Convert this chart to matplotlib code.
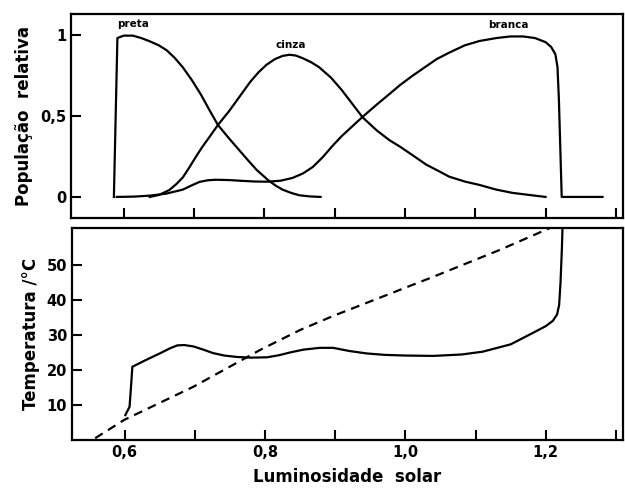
import matplotlib
matplotlib.use("Agg")
import matplotlib.pyplot as plt
from matplotlib.ticker import FixedLocator, MultipleLocator

plt.rcParams["font.family"] = ["DejaVu Sans"]
plt.rcParams["font.weight"] = "bold"

# Populacao relativa (painel de cima)
lum_preta = [0.586, 0.591, 0.600, 0.613, 0.625, 0.637, 0.650, 0.661, 0.672, 0.684,
             0.697, 0.71, 0.722, 0.734, 0.75, 0.765, 0.777, 0.789, 0.805, 0.816,
             0.826, 0.838, 0.85, 0.865, 0.88]
pop_preta = [0.0, 0.98, 0.995, 0.995, 0.98, 0.96, 0.935, 0.905, 0.86, 0.80,
             0.72, 0.63, 0.535, 0.444, 0.36, 0.285, 0.225, 0.167, 0.105, 0.07,
             0.045, 0.025, 0.01, 0.003, 0.0]

lum_cinza = [0.637, 0.65, 0.665, 0.675, 0.684, 0.693, 0.703, 0.712, 0.722, 0.734,
             0.75, 0.765, 0.78, 0.792, 0.803, 0.815, 0.826, 0.836, 0.845, 0.855,
             0.867, 0.878, 0.895, 0.91, 0.925, 0.94, 0.96, 0.978, 0.993, 1.01,
             1.03, 1.05, 1.063, 1.085, 1.106, 1.13, 1.153, 1.177, 1.2]
pop_cinza = [0.0, 0.012, 0.043, 0.08, 0.12, 0.18, 0.25, 0.31, 0.37, 0.444,
             0.53, 0.62, 0.71, 0.77, 0.815, 0.85, 0.87, 0.877, 0.872, 0.855,
             0.83, 0.80, 0.735, 0.66, 0.575, 0.49, 0.41, 0.35, 0.31, 0.26,
             0.20, 0.155, 0.125, 0.095, 0.074, 0.045, 0.025, 0.012, 0.0]

lum_branca = [0.59, 0.615, 0.637, 0.66, 0.684, 0.697, 0.708, 0.72, 0.731, 0.75,
              0.769, 0.787, 0.805, 0.823, 0.840, 0.855, 0.869, 0.883, 0.897, 0.91,
              0.925, 0.94, 0.96, 0.978, 0.993, 1.01, 1.03, 1.045, 1.063, 1.085,
              1.106, 1.13, 1.15, 1.168, 1.185, 1.2, 1.208, 1.214, 1.217, 1.219,
              1.221, 1.223, 1.281]
pop_branca = [0.0, 0.002, 0.008, 0.02, 0.045, 0.072, 0.093, 0.103, 0.106, 0.104,
              0.099, 0.095, 0.094, 0.10, 0.117, 0.145, 0.185, 0.245, 0.315, 0.375,
              0.435, 0.495, 0.57, 0.635, 0.69, 0.745, 0.805, 0.85, 0.89, 0.935,
              0.962, 0.98, 0.99, 0.99, 0.98, 0.955, 0.925, 0.88, 0.80, 0.60,
              0.30, 0.0, 0.0]

# Temperatura (painel de baixo)
lum_temp = [0.601, 0.607, 0.609, 0.611, 0.63, 0.65, 0.665, 0.675, 0.685, 0.698,
            0.712, 0.726, 0.742, 0.760, 0.78, 0.803, 0.82, 0.836, 0.855, 0.878,
            0.897, 0.92, 0.945, 0.97, 1.0, 1.04, 1.08, 1.11, 1.15, 1.181,
            1.2, 1.21, 1.216, 1.219, 1.221, 1.223, 1.224]
temp = [7.1, 9.5, 15.0, 20.9, 22.8, 24.7, 26.2, 27.0, 27.1, 26.7,
        25.8, 24.8, 24.1, 23.7, 23.5, 23.6, 24.2, 25.0, 25.8, 26.3,
        26.3, 25.4, 24.7, 24.3, 24.1, 24.0, 24.4, 25.2, 27.3, 30.5,
        32.5, 34.0, 35.8, 38.5, 45.0, 55.0, 62.0]

lum_sem_vida = [0.558, 0.599, 0.698, 0.793, 0.850, 0.897, 1.04, 1.135, 1.206]
temp_sem_vida = [0.5, 5.7, 15.2, 25.7, 31.4, 35.4, 46.6, 54.3, 60.5]

fig = plt.figure(figsize=(6.25, 4.91), dpi=100)
ax1 = fig.add_axes([0.1136, 0.556, 0.883, 0.416])
ax2 = fig.add_axes([0.1152, 0.1039, 0.8816, 0.4317])

lw = 1.6
ax1.plot(lum_preta, pop_preta, color="black", lw=lw)
ax1.plot(lum_cinza, pop_cinza, color="black", lw=lw)
ax1.plot(lum_branca, pop_branca, color="black", lw=lw)
ax1.text(0.613, 1.035, "preta", fontsize=7.5, ha="center", va="bottom")
ax1.text(0.838, 0.905, "cinza", fontsize=7.5, ha="center", va="bottom")
ax1.text(1.147, 1.03, "branca", fontsize=7.5, ha="center", va="bottom")

ax2.plot(lum_temp, temp, color="black", lw=lw)
ax2.plot(lum_sem_vida, temp_sem_vida, color="black", lw=lw,
         linestyle=(0, (4, 2.8)))

for ax in (ax1, ax2):
    ax.set_xlim(0.525, 1.31)
    ax.xaxis.set_major_locator(MultipleLocator(0.2))
    ax.xaxis.set_minor_locator(MultipleLocator(0.1))
    ax.tick_params(which="both", direction="in", length=7, width=1.5,
                   top=False, right=False, labelsize=10.5)
    for s in ax.spines.values():
        s.set_linewidth(1.6)

ax1.set_ylim(-0.13, 1.13)
ax1.yaxis.set_major_locator(FixedLocator([0, 0.5, 1]))
ax1.set_yticklabels(["0", "0,5", "1"])
ax1.tick_params(axis="x", labelbottom=False)
ax1.set_ylabel("População  relativa", fontsize=12, fontweight="bold", labelpad=5)

ax2.set_ylim(0, 60.5)
ax2.yaxis.set_major_locator(FixedLocator([10, 20, 30, 40, 50]))
ax2.set_xticks([0.6, 0.8, 1.0, 1.2])
ax2.set_xticklabels(["0,6", "0,8", "1,0", "1,2"])
ax2.set_ylabel("Temperatura /°C", fontsize=12, fontweight="bold", labelpad=5)
ax2.set_xlabel("Luminosidade  solar", fontsize=12, fontweight="bold", labelpad=6)

fig.savefig("out.png", dpi=100)
